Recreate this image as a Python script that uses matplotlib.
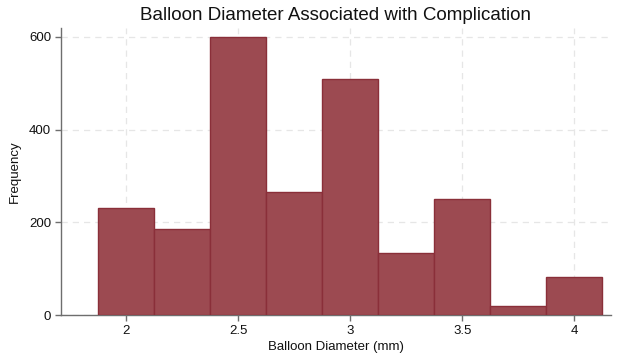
import matplotlib.pyplot as plt

# balloon diameter bins (mm) and counts
diameters = [2.0, 2.25, 2.5, 2.75, 3.0, 3.25, 3.5, 3.75, 4.0]
counts = [231, 185, 600, 265, 509, 134, 250, 20, 82]
bin_width = 0.25

xticks = [2, 2.5, 3, 3.5, 4]
xticklabels = ['2', '2.5', '3', '3.5', '4']
yticks = [0, 200, 400, 600]

plt.rcParams['font.family'] = ['Liberation Sans', 'DejaVu Sans']

fig = plt.figure(figsize=(6.24, 3.61), dpi=100)
ax = fig.add_axes([0.0978, 0.1274, 0.881, 0.795])

ax.bar(diameters, counts, width=bin_width, color='#9c4a51',
       edgecolor='#8a2f39', linewidth=1.0, zorder=3)

ax.set_xlim(1.71, 4.163)
ax.set_ylim(0, 619)
ax.set_xticks(xticks)
ax.set_xticklabels(xticklabels)
ax.set_yticks(yticks)

ax.grid(True, linestyle=(0, (5, 4)), color='#e6e6e6', linewidth=0.9, zorder=0)
for s in ['top', 'right']:
    ax.spines[s].set_visible(False)
for s in ['left', 'bottom']:
    ax.spines[s].set_color('#6e6e6e')
    ax.spines[s].set_linewidth(1.0)
ax.tick_params(axis='both', direction='out', length=4, width=1.0,
               color='#6e6e6e', labelsize=9.5, labelcolor='#111111', pad=3)

ax.set_title('Balloon Diameter Associated with Complication', fontsize=13.5,
             color='#111111', pad=6)
ax.set_xlabel('Balloon Diameter (mm)', fontsize=9.5, color='#111111', labelpad=3)
ax.set_ylabel('Frequency', fontsize=9.5, color='#111111', labelpad=6)

fig.savefig('out.png', dpi=100, facecolor='white')
